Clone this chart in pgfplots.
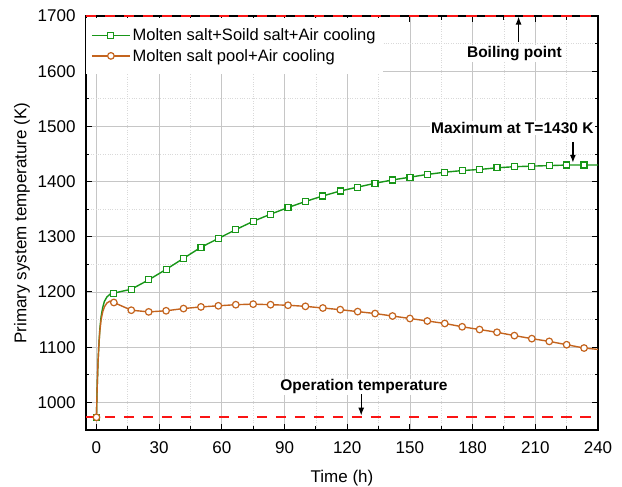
\documentclass[border=0pt]{standalone}
\usepackage{fontspec}
\setmainfont{Liberation Sans}
\usepackage{pgfplots}
\pgfplotsset{compat=1.18}
\usetikzlibrary{arrows.meta}
\definecolor{cgreen}{RGB}{24,150,24}
\definecolor{corange}{RGB}{196,100,30}
\definecolor{cred}{RGB}{250,20,20}

\begin{document}
\begin{tikzpicture}
\path[use as bounding box] (-86pt,-57pt) rectangle (536pt,430pt);
\begin{axis}[
  scale only axis, width=512pt, height=414pt,
  xmin=-5, xmax=240, ymin=950, ymax=1700,
  xtick={0,30,...,240}, ytick={1000,1100,...,1700},
  minor x tick num=1, minor y tick num=1,
  grid=both,
  major grid style={gray!45, line width=0.8pt},
  minor grid style={gray!30, dotted, line width=0.7pt},
  tick align=inside,
  major tick length=6pt, minor tick length=3.5pt,
  every tick/.style={black, line width=1pt},
  axis line style={line width=1.3pt},
  tick label style={font=\fontsize{17}{20}\selectfont},
  label style={font=\fontsize{17}{20}\selectfont},
  xticklabel shift=8pt, yticklabel shift=7pt,
  xlabel shift=10pt, ylabel shift=1pt,
  /pgf/number format/assume math mode=true,
  /pgf/number format/set thousands separator={},
  xlabel={Time (h)}, ylabel={Primary system temperature (K)},
  clip=false,
  legend cell align=left,
  legend style={at={(0,1)}, anchor=north west, yshift=-1.5pt, draw=none, fill=white,
    font=\fontsize{16.5}{18}\selectfont, inner xsep=5pt, inner ysep=9pt, row sep=3pt},
  legend image code/.code={\draw[mark indices={2}] plot coordinates {(0pt,0pt) (19pt,0pt) (38pt,0pt)};},
]
% reference lines
\addplot[cred, line width=2pt, dash pattern=on 10.5pt off 8.5pt, forget plot] coordinates {(-5,973) (240,973)};
\addplot[cred, line width=2pt, dash pattern=on 10.5pt off 8.5pt, forget plot] coordinates {(-5,1700) (240,1700)};

\addplot[cgreen, line width=1.4pt, mark=square*, mark size=3pt, mark options={line width=1.2pt, fill=white},
  mark indices={1,11,12,13,14,15,16,17,18,19,20,21,22,23,24,25,26,27,28,29,30,31,32,33,34,35,36,37,38}] coordinates {
(0,973) (0.3,1020) (0.7,1068) (1.1,1100) (1.6,1132) (2.2,1155) (3,1172) (3.8,1183) (5,1191) (6.5,1196)
(8.33,1198) (16.67,1205) (25,1222) (33.33,1241) (41.67,1261) (50,1281) (58.33,1297) (66.67,1313)
(75,1328) (83.33,1341) (91.67,1353) (100,1364) (108.33,1374) (116.67,1383) (125,1390) (133.33,1397)
(141.67,1403) (150,1408) (158.33,1413) (166.67,1417) (175,1420) (183.33,1422) (191.67,1425) (200,1427)
(208.33,1428) (216.67,1429) (225,1430) (233.33,1430) (240,1430)
};
\addlegendentry{Molten salt+Soild salt+Air cooling}

\addplot[corange, line width=1.4pt, mark=*, mark size=3.3pt, mark options={line width=1.2pt, fill=white},
  mark indices={1,11,12,13,14,15,16,17,18,19,20,21,22,23,24,25,26,27,28,29,30,31,32,33,34,35,36,37,38}] coordinates {
(0,973) (0.3,1020) (0.7,1068) (1.1,1100) (1.6,1128) (2.2,1149) (3,1164) (3.8,1173) (5,1180) (6.5,1183.5)
(8.33,1181) (16.67,1167) (25,1164) (33.33,1166) (41.67,1170) (50,1173) (58.33,1175) (66.67,1177)
(75,1178) (83.33,1177) (91.67,1176) (100,1174) (108.33,1171) (116.67,1168) (125,1164.5) (133.33,1161)
(141.67,1156.5) (150,1152) (158.33,1147.5) (166.67,1143) (175,1137) (183.33,1132) (191.67,1127) (200,1121)
(208.33,1115.5) (216.67,1110.5) (225,1104.5) (233.33,1098.5) (240,1096)
};
\addlegendentry{Molten salt pool+Air cooling}

% annotations
\node[fill=white, inner sep=1pt, font=\bfseries\fontsize{15.5}{18}\selectfont] at (axis cs:200,1632) {Boiling point};
\draw[-{Latex[length=8pt,width=6pt]}, line width=1.3pt] (axis cs:202,1653) -- (axis cs:202,1699);
\node[fill=white, inner sep=1pt, font=\bfseries\fontsize{15.5}{18}\selectfont] at (axis cs:199,1497) {Maximum at T=1430 K};
\draw[-{Latex[length=8pt,width=6pt]}, line width=1.3pt] (axis cs:228,1472) -- (axis cs:228,1434);
\node[fill=white, inner sep=1pt, font=\bfseries\fontsize{15.5}{18}\selectfont] at (axis cs:128,1028) {Operation temperature};
\draw[-{Latex[length=8pt,width=6pt]}, line width=1.3pt] (axis cs:126.7,1015) -- (axis cs:126.7,976);
\end{axis}
\end{tikzpicture}
\end{document}
